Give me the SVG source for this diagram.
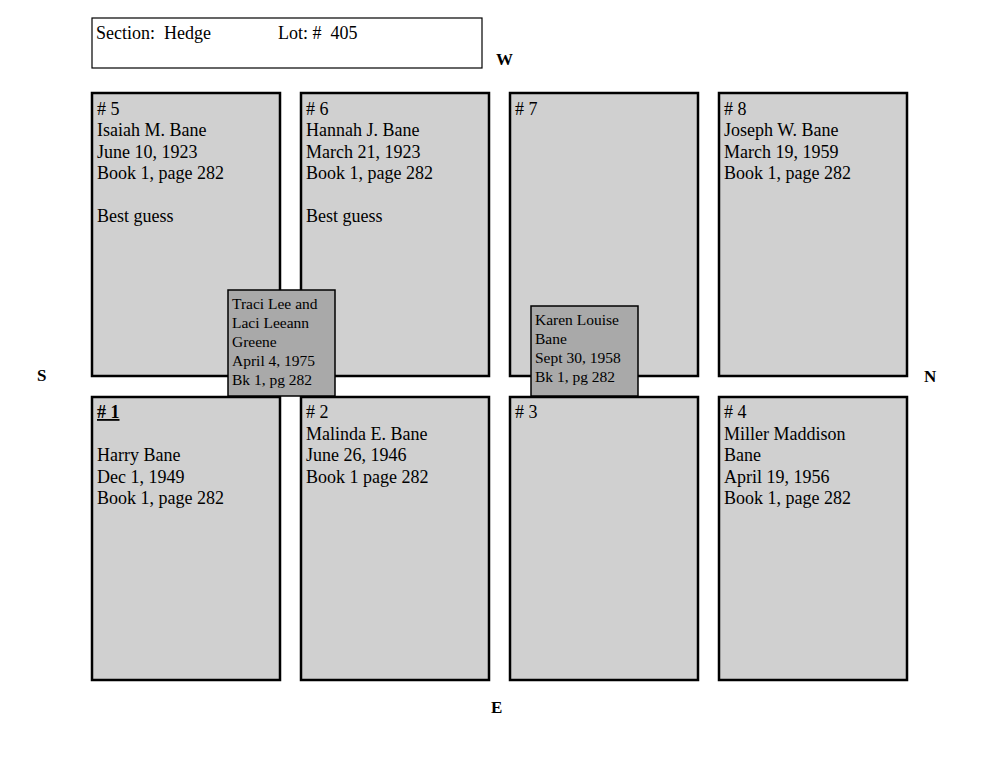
<svg xmlns="http://www.w3.org/2000/svg" width="1000" height="773" viewBox="0 0 1000 773">
<style>
text{font-family:"Liberation Serif",serif;fill:#000}
.p{fill:#d0d0d0;stroke:#000;stroke-width:2.5}
.s{fill:#a9a9a9;stroke:#000;stroke-width:1.5}
.t{font-size:18px}
.st{font-size:15.5px}
.d{font-size:17px;font-weight:bold}
</style>
<rect width="1000" height="773" fill="#fff"/>
<g id="header"><rect x="92" y="18" width="390" height="50" fill="#fff" stroke="#000" stroke-width="1.2"/>
<text class="t" x="96" y="39" xml:space="preserve">Section:  Hedge</text><text class="t" x="278" y="39" xml:space="preserve">Lot: #  405</text></g>
<g id="compass"><text class="d" x="496" y="65">W</text><text class="d" x="37" y="381">S</text><text class="d" x="924" y="382">N</text><text class="d" x="491" y="713">E</text></g>
<g id="p5"><rect class="p" x="92" y="93" width="188" height="283"/><text class="t" x="97"><tspan x="97" y="115">#&#160;5</tspan><tspan x="97" y="136">Isaiah M. Bane</tspan><tspan x="97" y="158">June 10, 1923</tspan><tspan x="97" y="179">Book 1, page 282</tspan><tspan x="97" y="222">Best guess</tspan></text></g>
<g id="p6"><rect class="p" x="301" y="93" width="188" height="283"/><text class="t"><tspan x="306" y="115">#&#160;6</tspan><tspan x="306" y="136">Hannah J. Bane</tspan><tspan x="306" y="158">March 21, 1923</tspan><tspan x="306" y="179">Book 1, page 282</tspan><tspan x="306" y="222">Best guess</tspan></text></g>
<g id="p7"><rect class="p" x="510" y="93" width="188" height="283"/><text class="t" x="515" y="115">#&#160;7</text></g>
<g id="p8"><rect class="p" x="719" y="93" width="188" height="283"/><text class="t"><tspan x="724" y="115">#&#160;8</tspan><tspan x="724" y="136">Joseph W. Bane</tspan><tspan x="724" y="158">March 19, 1959</tspan><tspan x="724" y="179">Book 1, page 282</tspan></text></g>
<g id="p1"><rect class="p" x="92" y="397" width="188" height="283"/><text class="t" x="97" y="418" font-weight="bold" text-decoration="underline">#&#160;1</text><text class="t"><tspan x="97" y="461">Harry Bane</tspan><tspan x="97" y="483">Dec 1, 1949</tspan><tspan x="97" y="504">Book 1, page 282</tspan></text></g>
<g id="p2"><rect class="p" x="301" y="397" width="188" height="283"/><text class="t"><tspan x="306" y="418">#&#160;2</tspan><tspan x="306" y="440">Malinda E. Bane</tspan><tspan x="306" y="461">June 26, 1946</tspan><tspan x="306" y="483">Book 1 page 282</tspan></text></g>
<g id="p3"><rect class="p" x="510" y="397" width="188" height="283"/><text class="t" x="515" y="418">#&#160;3</text></g>
<g id="p4"><rect class="p" x="719" y="397" width="188" height="283"/><text class="t"><tspan x="724" y="418">#&#160;4</tspan><tspan x="724" y="440">Miller Maddison</tspan><tspan x="724" y="461">Bane</tspan><tspan x="724" y="483">April 19, 1956</tspan><tspan x="724" y="504">Book 1, page 282</tspan></text></g>
<g id="greene"><rect class="s" x="228" y="290" width="107" height="106"/><text class="st"><tspan x="232" y="309">Traci Lee and</tspan><tspan x="232" y="328">Laci Leeann</tspan><tspan x="232" y="347">Greene</tspan><tspan x="232" y="366">April 4, 1975</tspan><tspan x="232" y="385">Bk 1, pg 282</tspan></text></g>
<g id="karen"><rect class="s" x="531" y="306" width="107" height="90"/><text class="st"><tspan x="535" y="325">Karen Louise</tspan><tspan x="535" y="344">Bane</tspan><tspan x="535" y="363">Sept 30, 1958</tspan><tspan x="535" y="382">Bk 1, pg 282</tspan></text></g>
<g id="connectors"/>
</svg>
